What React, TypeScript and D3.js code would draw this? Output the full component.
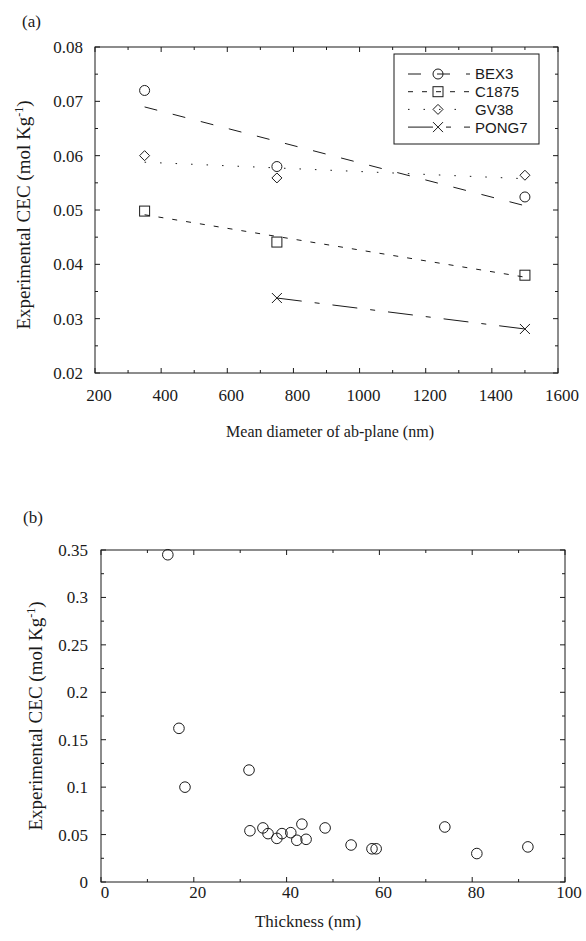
import React from "react";
import * as d3 from "d3";

// ---------- Panel (a) data ----------
const diameters = [350, 750, 1500];
const bex3 = [0.072, 0.058, 0.0524];
const c1875 = [0.0498, 0.0441, 0.038];
const gv38 = [0.06, 0.0559, 0.0564];
const pong7X = [750, 1500];
const pong7 = [0.0338, 0.0281];
const seriesNames = ["BEX3", "C1875", "GV38", "PONG7"];

const aXTicks = [200, 400, 600, 800, 1000, 1200, 1400, 1600];
const aXTickLabels = ["200", "400", "600", "800", "1000", "1200", "1400", "1600"];
const aYTicks = [0.02, 0.03, 0.04, 0.05, 0.06, 0.07, 0.08];
const aYTickLabels = ["0.02", "0.03", "0.04", "0.05", "0.06", "0.07", "0.08"];

// ---------- Panel (b) data ----------
const thickness = [14.4, 16.8, 18.1, 31.9, 32.1, 34.9, 36.0, 37.9, 39.0, 40.9, 42.2, 43.3, 44.2, 48.3, 53.9, 58.4, 59.3, 74.1, 81.0, 92.0];
const cecB = [0.345, 0.162, 0.100, 0.118, 0.054, 0.057, 0.051, 0.046, 0.051, 0.052, 0.044, 0.061, 0.045, 0.057, 0.039, 0.035, 0.035, 0.058, 0.030, 0.037];

const bXTicks = [0, 20, 40, 60, 80, 100];
const bXTickLabels = ["0", "20", "40", "60", "80", "100"];
const bYTicks = [0, 0.05, 0.1, 0.15, 0.2, 0.25, 0.3, 0.35];
const bYTickLabels = ["0", "0.05", "0.1", "0.15", "0.2", "0.25", "0.3", "0.35"];

const SERIF = "'Liberation Serif', 'DejaVu Serif', serif";
const SANS = "'Liberation Sans', Arial, sans-serif";
const INK = "#1a1a1a";

function fit(xs: number[], ys: number[]) {
  const n = xs.length;
  const mx = d3.mean(xs) as number;
  const my = d3.mean(ys) as number;
  let sxy = 0, sxx = 0;
  for (let i = 0; i < n; i++) {
    sxy += (xs[i] - mx) * (ys[i] - my);
    sxx += (xs[i] - mx) ** 2;
  }
  const b = sxy / sxx;
  const a = my - b * mx;
  const x0 = d3.min(xs) as number, x1 = d3.max(xs) as number;
  return [[x0, a + b * x0], [x1, a + b * x1]] as [number, number][];
}

function Marker({ kind, x, y }: { kind: string; x: number; y: number }) {
  const common = { fill: "none", stroke: INK, strokeWidth: 1 };
  if (kind === "circle") return <circle cx={x} cy={y} r={5} {...common} />;
  if (kind === "square") return <rect x={x - 5} y={y - 5} width={10} height={10} {...common} />;
  if (kind === "diamond")
    return <path d={`M${x},${y - 5}L${x + 5},${y}L${x},${y + 5}L${x - 5},${y}Z`} {...common} />;
  return <path d={`M${x - 5},${y - 5}L${x + 5},${y + 5}M${x + 5},${y - 5}L${x - 5},${y + 5}`} {...common} />;
}

function Frame({ x, y, xTicks, yTicks, xMinor, yMinor }: any) {
  const [x0, x1] = x.range();
  const [y0, y1] = y.range(); // y0 bottom, y1 top
  const els: any[] = [];
  els.push(<rect key="f" x={x0} y={y1} width={x1 - x0} height={y0 - y1} fill="none" stroke={INK} strokeWidth={1} />);
  xTicks.forEach((t: number, i: number) => {
    const px = x(t);
    els.push(<line key={"xb" + i} x1={px} x2={px} y1={y0} y2={y0 - 5} stroke={INK} />);
    els.push(<line key={"xt" + i} x1={px} x2={px} y1={y1} y2={y1 + 5} stroke={INK} />);
  });
  xMinor.forEach((t: number, i: number) => {
    const px = x(t);
    els.push(<line key={"xbm" + i} x1={px} x2={px} y1={y0} y2={y0 - 3} stroke={INK} />);
    els.push(<line key={"xtm" + i} x1={px} x2={px} y1={y1} y2={y1 + 3} stroke={INK} />);
  });
  yTicks.forEach((t: number, i: number) => {
    const py = y(t);
    els.push(<line key={"yl" + i} x1={x0} x2={x0 + 5} y1={py} y2={py} stroke={INK} />);
    els.push(<line key={"yr" + i} x1={x1} x2={x1 - 5} y1={py} y2={py} stroke={INK} />);
  });
  yMinor.forEach((t: number, i: number) => {
    const py = y(t);
    els.push(<line key={"ylm" + i} x1={x0} x2={x0 + 3} y1={py} y2={py} stroke={INK} />);
    els.push(<line key={"yrm" + i} x1={x1} x2={x1 - 3} y1={py} y2={py} stroke={INK} />);
  });
  return <g>{els}</g>;
}

export default function App() {
  // Panel (a)
  const xa = d3.scaleLinear().domain([200, 1600]).range([95, 558]);
  const ya = d3.scaleLinear().domain([0.02, 0.08]).range([373, 47]);
  const line = (s: any, xs: any) => d3.line<[number, number]>().x((d) => xs(d[0])).y((d) => s(d[1]));
  const la = line(ya, xa);

  const series = [
    { name: seriesNames[0], xs: diameters, ys: bex3, marker: "circle", dash: "13,16" },
    { name: seriesNames[1], xs: diameters, ys: c1875, marker: "square", dash: "5,9" },
    { name: seriesNames[2], xs: diameters, ys: gv38, marker: "diamond", dash: "1.5,14" },
    { name: seriesNames[3], xs: pong7X, ys: pong7, marker: "cross", dash: "25,13,5,13" },
  ];

  const aMinorX = d3.range(300, 1600, 200);
  const aMinorY = d3.range(0.025, 0.08, 0.01);

  // Panel (b)
  const xb = d3.scaleLinear().domain([0, 100]).range([101, 565]);
  const yb = d3.scaleLinear().domain([0, 0.35]).range([882, 550]);
  const bMinorX = d3.range(10, 100, 20);
  const bMinorY = d3.range(0.025, 0.35, 0.05);

  const legendX = 394, legendY = 54;

  return (
    <svg width={586} height={941} style={{ position: "absolute", left: 0, top: 0, background: "#fff" }}>
      <rect x={0} y={0} width={586} height={941} fill="#fff" />
      {/* ---------- Panel (a) ---------- */}
      <text x={22} y={27} fontFamily={SERIF} fontSize={17} fill={INK}>(a)</text>
      <Frame x={xa} y={ya} xTicks={aXTicks} yTicks={aYTicks} xMinor={aMinorX} yMinor={aMinorY} />
      {aXTicks.map((t, i) => (
        <text key={"ax" + i} x={xa(t) + 4} y={401} textAnchor="middle" fontFamily={SERIF} fontSize={17} fill={INK}>
          {aXTickLabels[i]}
        </text>
      ))}
      {aYTicks.map((t, i) => (
        <text key={"ay" + i} x={83} y={ya(t)} dy="0.35em" textAnchor="end" fontFamily={SERIF} fontSize={17} fill={INK}>
          {aYTickLabels[i]}
        </text>
      ))}
      <text x={330} y={437} textAnchor="middle" fontFamily={SERIF} fontSize={16} fill={INK}>
        Mean diameter of ab-plane (nm)
      </text>
      <text transform="translate(30,215) rotate(-90)" textAnchor="middle" fontFamily={SERIF} fontSize={19} fill={INK}>
        Experimental CEC (mol Kg<tspan dy="-7" fontSize={12}>-1</tspan><tspan dy="7">)</tspan>
      </text>
      {series.map((s) => (
        <g key={s.name}>
          <path
            d={la(s.xs.length > 2 ? fit(s.xs, s.ys) : s.xs.map((v, i) => [v, s.ys[i]] as [number, number])) || ""}
            fill="none"
            stroke={INK}
            strokeWidth={1}
            strokeDasharray={s.dash}
          />
          {s.xs.map((v, i) => (
            <Marker key={i} kind={s.marker} x={xa(v)} y={ya(s.ys[i])} />
          ))}
        </g>
      ))}
      {/* legend */}
      <rect x={legendX} y={legendY} width={145} height={90} fill="#fff" stroke={INK} strokeWidth={1} />
      {series.map((s, i) => {
        const cy = legendY + 20 + i * 17.7;
        return (
          <g key={"lg" + s.name}>
            <line x1={legendX + 14} x2={legendX + 76} y1={cy} y2={cy} stroke={INK} strokeWidth={1} strokeDasharray={s.dash} />
            <Marker kind={s.marker} x={legendX + 44} y={cy} />
            <text x={legendX + 81} y={cy} dy="0.36em" fontFamily={SANS} fontSize={15} fill={INK}>
              {s.name}
            </text>
          </g>
        );
      })}

      {/* ---------- Panel (b) ---------- */}
      <text x={23} y={523} fontFamily={SERIF} fontSize={17} fill={INK}>(b)</text>
      <Frame x={xb} y={yb} xTicks={bXTicks} yTicks={bYTicks} xMinor={bMinorX} yMinor={bMinorY} />
      {bXTicks.map((t, i) => (
        <text key={"bx" + i} x={xb(t) + 4} y={898} textAnchor="middle" fontFamily={SERIF} fontSize={17} fill={INK}>
          {bXTickLabels[i]}
        </text>
      ))}
      {bYTicks.map((t, i) => (
        <text key={"by" + i} x={88} y={yb(t)} dy="0.35em" textAnchor="end" fontFamily={SERIF} fontSize={17} fill={INK}>
          {bYTickLabels[i]}
        </text>
      ))}
      <text x={308} y={927} textAnchor="middle" fontFamily={SERIF} fontSize={17} fill={INK}>
        Thickness (nm)
      </text>
      <text transform="translate(42,716) rotate(-90)" textAnchor="middle" fontFamily={SERIF} fontSize={19} fill={INK}>
        Experimental CEC (mol Kg<tspan dy="-7" fontSize={12}>-1</tspan><tspan dy="7">)</tspan>
      </text>
      {thickness.map((t, i) => (
        <circle key={"pb" + i} cx={xb(t)} cy={yb(cecB[i])} r={5.3} fill="none" stroke={INK} strokeWidth={1} />
      ))}
    </svg>
  );
}
